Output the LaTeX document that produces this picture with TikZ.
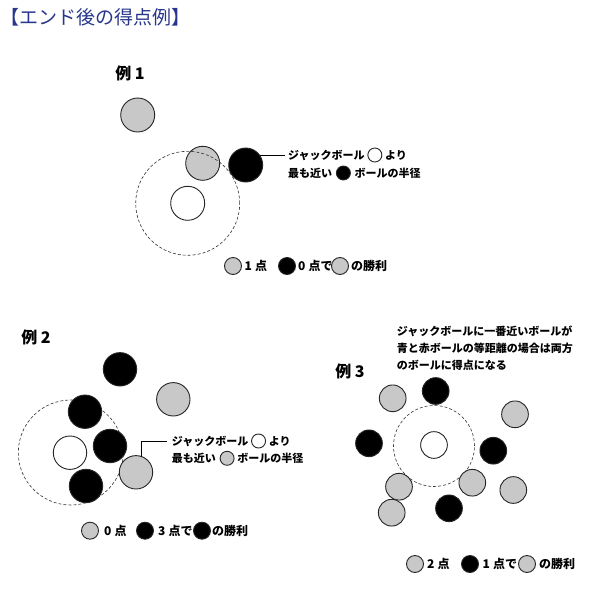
\documentclass[tikz,border=0pt]{standalone}
\usepackage{fontspec}
\newfontfamily\jp{Noto Sans CJK JP}
\usetikzlibrary{positioning}
\definecolor{ballgray}{RGB}{200,200,200}
\definecolor{titleblue}{RGB}{40,55,140}
\tikzset{
  ball/.style={circle, draw=black!85, line width=0.9pt, inner sep=0pt, outer sep=0pt, minimum size=#1},
  gball/.style={ball=#1, fill=ballgray},
  bball/.style={ball=#1, fill=black},
  wball/.style={ball=#1, fill=white},
  zone/.style={circle, draw=black!80, dash pattern=on 3pt off 2pt, line width=0.6pt, inner sep=0pt, minimum size=#1},
  note/.style={font=\jp\bfseries\fontsize{11}{13}\selectfont, anchor=west, inner sep=0pt},
  legendtxt/.style={font=\jp\bfseries\fontsize{12}{14}\selectfont, anchor=west, inner sep=0pt},
  heading/.style={font=\jp\bfseries\fontsize{16}{18}\selectfont, inner sep=0pt},
  titletxt/.style={font=\jp\fontsize{19}{21}\selectfont, text=titleblue, anchor=west, inner sep=0pt},
  link/.style={draw=black, line width=0.7pt},
}
\begin{document}
\begin{tikzpicture}[x=1pt,y=-1pt]
\fill[white] (0,0) rectangle (600,600);
\useasboundingbox (0,0) rectangle (600,600);

\node[titletxt] (title) at (0,17) {【エンド後の得点例】};

% ---------- Example 1 ----------
\node[heading] (h1) at (130,73) {例 1};
\node[gball=34] (e1g1) at (137.7,115) {};
\node[wball=34] (e1j) at (187.7,203.3) {};
\node[gball=34] (e1g2) at (202.7,163.3) {};
\node[bball=34] (e1b) at (245.7,165) {};
\node[zone=104] (e1z) at (187.7,203.3) {};
\coordinate (e1le) at (285,155);
\draw[link] (e1b.35) -- (e1b.35 -| e1le);
\node[note] (e1t1) at (288,155) {ジャックボール};
\node[wball=14, right=3pt of e1t1] (e1c1) {};
\node[note, right=3pt of e1c1] (e1t2) {より};
\node[note] (e1t3) at (288,173) {最も近い};
\node[bball=14, right=4pt of e1t3] (e1c2) {};
\node[note, right=4pt of e1c2] (e1t4) {ボールの半径};

\node[gball=17] (e1l1) at (233,266) {};
\node[legendtxt] (e1l2) at (244.5,266) {1\hspace{3pt}点};
\node[bball=17] (e1l3) at (287,266) {};
\node[legendtxt] (e1l4) at (298,266) {0\hspace{3pt}点で};
\node[gball=17] (e1l5) at (340,266) {};
\node[legendtxt] (e1l6) at (351,266) {の勝利};

% ---------- Example 2 ----------
\node[heading] (h2) at (36,337) {例 2};
\node[zone=105] (e2z) at (70.8,452.5) {};
\node[bball=33.4] (e2b1) at (120,369.3) {};
\node[gball=33.4] (e2g1) at (173.3,399.3) {};
\node[bball=33.4] (e2b2) at (85,411.7) {};
\node[wball=33.4] (e2j) at (70,452.7) {};
\node[bball=33.4] (e2b3) at (110,446) {};
\node[bball=33.4] (e2b4) at (86,486) {};
\node[gball=33.4] (e2g2) at (136,472.3) {};
\coordinate (e2le) at (167,441);
\draw[link] (e2g2.70) |- (e2le);
\node[note] (e2t1) at (171.7,441) {ジャックボール};
\node[wball=14, right=3pt of e2t1] (e2c1) {};
\node[note, right=3pt of e2c1] (e2t2) {より};
\node[note] (e2t3) at (171.7,458.3) {最も近い};
\node[gball=14, right=4pt of e2t3] (e2c2) {};
\node[note, right=3pt of e2c2] (e2t4) {ボールの半径};

\node[gball=17] (e2l1) at (90,530.7) {};
\node[legendtxt] (e2l2) at (104,530.7) {0\hspace{3pt}点};
\node[bball=17] (e2l3) at (145,530.7) {};
\node[legendtxt] (e2l4) at (158,530.7) {3\hspace{3pt}点で};
\node[bball=17] (e2l5) at (202,530.7) {};
\node[legendtxt] (e2l6) at (212,530.7) {の勝利};

% ---------- Example 3 ----------
\node[note] (e3n1) at (396.7,331.3) {ジャックボールに一番近いボールが};
\node[note] (e3n2) at (396.7,348.3) {青と赤ボールの等距離の場合は両方};
\node[note] (e3n3) at (396.7,365) {のボールに得点になる};
\node[heading] (h3) at (350,371) {例 3};
\node[zone=81] (e3z) at (434,446) {};
\node[wball=26.7] (e3j) at (434,445) {};
\node[gball=26.7] (e3g1) at (392.7,398.3) {};
\node[bball=26.7] (e3b1) at (435.7,391) {};
\node[gball=26.7] (e3g2) at (515,414.3) {};
\node[bball=26.7] (e3b2) at (369,443.3) {};
\node[bball=26.7] (e3b3) at (493.3,450.7) {};
\node[gball=26.7] (e3g3) at (399,486.7) {};
\node[gball=26.7] (e3g4) at (472.3,482.7) {};
\node[gball=26.7] (e3g5) at (513.3,490) {};
\node[gball=26.7] (e3g6) at (391.7,512.7) {};
\node[bball=26.7] (e3b4) at (449,508.3) {};

\node[gball=17] (e3l1) at (415,564) {};
\node[legendtxt] (e3l2) at (427,564) {2\hspace{3pt}点};
\node[bball=17] (e3l3) at (470,564) {};
\node[legendtxt] (e3l4) at (482.5,564) {1\hspace{3pt}点で};
\node[gball=17] (e3l5) at (527,564) {};
\node[legendtxt] (e3l6) at (539,564) {の勝利};
\end{tikzpicture}
\end{document}
